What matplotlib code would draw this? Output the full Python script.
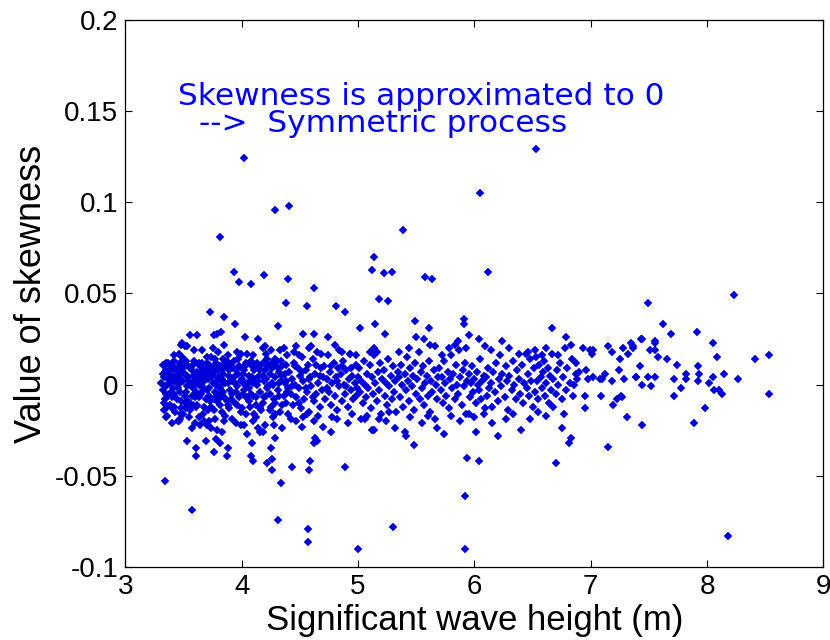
import matplotlib
matplotlib.use("Agg")
import matplotlib.pyplot as plt

# values: (significant wave height [m], skewness)
outliers_high = [
    (4.02, 0.124), (6.53, 0.129), (6.05, 0.105), (4.29, 0.096), (4.41, 0.098),
    (5.39, 0.085), (3.81, 0.081), (5.14, 0.070), (3.93, 0.062), (3.98, 0.056),
    (4.08, 0.055), (4.19, 0.060), (4.40, 0.058), (5.12, 0.063), (5.22, 0.061),
    (5.29, 0.062), (5.58, 0.059), (5.64, 0.058), (6.12, 0.062), (8.23, 0.049),
    (7.49, 0.045), (4.62, 0.053), (4.38, 0.045), (4.56, 0.043), (4.81, 0.043),
    (4.89, 0.040), (5.18, 0.047), (5.26, 0.046), (3.73, 0.040), (3.85, 0.037),
    (5.49, 0.035), (7.62, 0.033), (5.91, 0.036), (5.91, 0.033), (4.31, 0.032),
    (5.02, 0.031), (5.15, 0.033), (5.61, 0.031), (6.67, 0.031), (7.69, 0.028),
    (7.91, 0.029), (3.94, 0.033), (8.05, 0.023), (3.76, 0.027), (3.79, 0.028),
    (3.82, 0.029),
]

outliers_low = [
    (3.34, -0.053), (3.57, -0.069), (4.31, -0.074), (4.57, -0.079), (4.57, -0.086),
    (5.00, -0.090), (5.30, -0.078), (5.92, -0.061), (5.92, -0.090), (8.18, -0.083),
    (4.34, -0.054), (4.89, -0.045), (4.43, -0.045), (4.58, -0.047), (4.26, -0.047),
    (4.22, -0.043), (4.26, -0.041), (4.59, -0.042), (5.94, -0.040), (6.04, -0.042),
    (6.70, -0.043), (7.15, -0.034), (7.44, -0.022), (7.89, -0.021), (7.98, -0.013),
    (7.31, -0.018), (6.81, -0.032), (6.83, -0.029), (6.75, -0.024), (6.62, -0.017),
    (6.40, -0.025), (6.20, -0.028), (6.27, -0.019), (6.01, -0.026), (5.48, -0.033),
    (5.41, -0.028), (5.40, -0.026), (5.32, -0.024), (5.14, -0.025), (5.12, -0.025),
    (5.03, -0.019), (5.06, -0.019), (4.77, -0.026), (4.65, -0.031), (4.62, -0.032),
    (4.63, -0.029), (4.52, -0.023), (4.42, -0.019), (4.28, -0.022), (4.29, -0.029),
    (4.16, -0.026), (4.18, -0.026), (4.09, -0.032), (4.08, -0.039), (4.10, -0.042),
    (4.25, -0.035), (3.87, -0.039), (3.88, -0.035), (3.81, -0.032), (3.78, -0.030),
    (3.69, -0.031), (3.61, -0.035), (3.53, -0.031), (3.61, -0.039), (3.76, -0.037),
    (3.83, -0.026), (3.74, -0.024), (3.95, -0.021), (5.74, -0.027),
]

core_west = [
    (3.32, 0.011), (3.33, 0.004), (3.32, -0.003), (3.34, -0.008), (3.33, -0.014),
    (3.35, 0.008), (3.36, 0.000), (3.35, -0.005), (3.37, 0.012), (3.38, -0.011),
    (3.36, -0.017), (3.39, 0.003), (3.40, 0.009), (3.41, -0.002), (3.40, -0.007),
    (3.42, 0.013), (3.43, -0.015), (3.44, 0.005), (3.45, -0.020), (3.44, 0.001),
    (3.46, 0.010), (3.47, -0.004), (3.48, -0.009), (3.49, 0.015), (3.46, -0.020),
    (3.50, 0.002), (3.48, 0.022), (3.52, -0.013), (3.38, 0.006), (3.42, -0.012),
    (3.45, 0.007), (3.37, -0.006), (3.34, 0.007), (3.41, 0.004), (3.47, 0.001),
    (3.51, 0.006), (3.52, -0.004), (3.53, 0.011), (3.54, -0.009), (3.55, 0.002),
    (3.56, -0.014), (3.57, 0.008), (3.58, -0.002), (3.59, 0.013), (3.60, -0.007),
    (3.61, 0.004), (3.62, -0.011), (3.63, 0.000), (3.64, 0.010), (3.65, -0.005),
    (3.66, 0.006), (3.67, -0.016), (3.68, 0.002), (3.69, -0.008), (3.70, 0.012),
    (3.55, -0.018), (3.58, 0.005), (3.62, 0.007), (3.66, -0.001), (3.60, -0.021),
    (3.64, -0.022), (3.68, -0.020), (3.53, -0.001), (3.57, -0.006), (3.69, 0.005),
    (3.71, 0.003), (3.72, -0.006), (3.73, 0.009), (3.74, -0.012), (3.75, 0.001),
    (3.76, 0.007), (3.77, -0.004), (3.78, 0.012), (3.79, -0.009), (3.80, 0.004),
    (3.81, -0.002), (3.82, 0.010), (3.83, -0.015), (3.84, 0.006), (3.85, -0.007),
    (3.86, 0.001), (3.87, 0.013), (3.88, -0.011), (3.89, 0.005), (3.90, -0.003),
    (3.74, 0.015), (3.79, 0.002), (3.86, -0.017), (3.71, -0.014), (3.83, 0.003),
    (3.77, -0.019), (3.90, 0.009), (3.77, 0.014), (3.84, 0.014), (3.88, 0.016),
    (3.72, -0.020),
    (3.31, 0.001), (3.33, -0.010), (3.35, 0.012), (3.36, -0.012), (3.38, 0.001),
    (3.39, -0.004), (3.41, 0.010), (3.43, 0.002), (3.44, -0.008), (3.46, 0.004),
    (3.48, -0.013), (3.49, 0.007), (3.51, -0.010), (3.52, 0.013), (3.54, 0.004),
    (3.56, 0.009), (3.58, -0.011), (3.59, 0.000), (3.61, -0.004), (3.63, 0.012),
    (3.65, 0.003), (3.67, 0.008), (3.68, -0.012), (3.70, -0.003), (3.72, 0.011),
    (3.73, -0.009), (3.75, 0.005), (3.76, -0.014), (3.78, 0.000), (3.80, 0.011),
    (3.81, -0.011), (3.83, 0.008), (3.84, -0.004), (3.86, 0.010), (3.88, 0.001),
    (3.89, -0.013),
    (3.32, 0.006), (3.34, -0.001), (3.35, -0.011), (3.37, 0.003), (3.39, 0.010),
    (3.40, -0.013), (3.42, -0.005), (3.43, 0.008), (3.45, -0.002), (3.47, 0.012),
    (3.48, -0.016), (3.50, 0.009), (3.51, -0.006), (3.53, 0.005), (3.55, -0.010),
    (3.56, 0.000), (3.58, 0.011), (3.60, 0.002), (3.61, -0.012), (3.63, -0.007),
    (3.64, 0.005), (3.66, 0.012), (3.67, -0.003), (3.69, 0.009), (3.71, 0.007),
    (3.72, -0.002), (3.74, 0.004), (3.76, -0.008), (3.77, 0.010), (3.79, -0.005),
    (3.80, 0.008), (3.82, -0.007), (3.84, 0.001), (3.85, 0.011), (3.87, -0.009),
    (3.89, 0.008),
]

core_mid = [
    (3.91, 0.011), (3.92, -0.005), (3.93, 0.004), (3.94, -0.010), (3.95, 0.008),
    (3.96, -0.001), (3.97, 0.014), (3.98, -0.007), (3.99, 0.002), (4.00, -0.013),
    (4.01, 0.006), (4.02, -0.003), (4.03, 0.010), (4.04, -0.016), (4.05, 0.001),
    (4.06, -0.009), (4.07, 0.012), (4.08, -0.005), (4.09, 0.004), (4.10, -0.020),
    (4.11, 0.008), (4.12, -0.011), (4.13, 0.000), (4.14, -0.024), (3.96, 0.018),
    (4.05, 0.017), (4.02, -0.022), (3.92, 0.009), (4.08, 0.002), (4.12, 0.003),
    (4.15, 0.005), (4.16, -0.004), (4.17, 0.011), (4.18, -0.010), (4.19, 0.002),
    (4.20, 0.008), (4.21, -0.006), (4.22, 0.014), (4.23, -0.001), (4.24, 0.006),
    (4.25, -0.012), (4.26, 0.009), (4.27, 0.000), (4.28, -0.008), (4.29, 0.004),
    (4.30, 0.013), (4.31, -0.003), (4.32, 0.007), (4.33, -0.015), (4.34, 0.002),
    (4.35, 0.010), (4.36, -0.006), (4.37, 0.001), (4.38, -0.010), (4.39, 0.016),
    (4.40, -0.002), (4.21, 0.017), (4.33, 0.019), (4.27, -0.018), (4.18, 0.020),
    (3.91, -0.008), (3.93, 0.013), (3.94, 0.001), (3.96, -0.011), (3.97, 0.006),
    (3.99, -0.015), (4.00, 0.009), (4.01, -0.005), (4.03, 0.000), (4.04, 0.012),
    (4.06, 0.005), (4.07, -0.012), (4.09, 0.010), (4.10, -0.006), (4.11, -0.016),
    (4.13, 0.012), (4.14, 0.002), (4.16, 0.008), (4.17, -0.014), (4.19, -0.007),
    (4.20, 0.013), (4.22, -0.002), (4.23, 0.010), (4.24, -0.014), (4.26, 0.001),
    (4.28, 0.011), (4.29, -0.010), (4.31, 0.009), (4.32, -0.006), (4.34, 0.013),
    (4.35, -0.011), (4.37, 0.006), (4.38, 0.002), (4.39, -0.004),
    (3.92, 0.002), (3.95, -0.004), (3.98, 0.010), (4.00, 0.003), (4.02, 0.008),
    (4.04, -0.007), (4.06, -0.002), (4.08, 0.013), (4.10, 0.001), (4.12, -0.007),
    (4.14, 0.009), (4.16, -0.013), (4.18, 0.005), (4.21, 0.003), (4.24, -0.005),
    (4.26, 0.012), (4.29, -0.016), (4.32, 0.001), (4.35, 0.005), (4.38, 0.011),
    (4.41, 0.007), (4.42, -0.005), (4.43, 0.003), (4.44, -0.011), (4.45, 0.012),
    (4.46, 0.000), (4.47, -0.007), (4.48, 0.009), (4.49, -0.002), (4.50, 0.005),
    (4.51, -0.013), (4.52, 0.015), (4.53, 0.002), (4.54, -0.008), (4.55, 0.008),
    (4.56, -0.004), (4.57, 0.011), (4.58, -0.015), (4.59, 0.004), (4.60, -0.001),
    (4.61, 0.014), (4.62, -0.009), (4.63, 0.006), (4.64, -0.005), (4.65, 0.018),
    (4.66, 0.001), (4.67, -0.012), (4.68, 0.009), (4.69, -0.003), (4.70, 0.004),
    (4.47, 0.021), (4.58, 0.020), (4.66, -0.017), (4.53, -0.018),
    (4.43, -0.001), (4.46, 0.010), (4.49, -0.010), (4.52, 0.007), (4.55, -0.002),
    (4.58, 0.003), (4.61, -0.007), (4.64, 0.011), (4.67, 0.005),
    (4.71, 0.010), (4.72, -0.008), (4.73, 0.003), (4.74, 0.016), (4.75, -0.004),
    (4.76, 0.007), (4.77, -0.011), (4.78, 0.001), (4.79, 0.012), (4.80, -0.006),
    (4.81, 0.004), (4.82, -0.014), (4.83, 0.009), (4.84, -0.001), (4.85, 0.006),
    (4.86, -0.009), (4.87, 0.013), (4.88, 0.000), (4.89, -0.005), (4.90, 0.008),
    (4.91, -0.012), (4.92, 0.003), (4.93, 0.017), (4.94, -0.003), (4.95, 0.005),
    (4.96, -0.008), (4.97, 0.001), (4.98, 0.011), (4.99, -0.002), (5.00, 0.004),
    (4.78, -0.018), (4.84, 0.019), (4.95, -0.016),
    (4.73, -0.002), (4.77, 0.010), (4.82, 0.002), (4.86, 0.010), (4.90, -0.001),
    (4.94, 0.009), (4.98, -0.006),
]

core_east = [
    (5.01, 0.009), (5.02, -0.004), (5.03, 0.002), (5.04, -0.010), (5.05, 0.013),
    (5.06, 0.000), (5.07, -0.007), (5.08, 0.006), (5.09, -0.002), (5.10, 0.011),
    (5.11, -0.013), (5.12, 0.004), (5.13, -0.005), (5.14, 0.016), (5.15, 0.001),
    (5.16, -0.009), (5.17, 0.007), (5.18, -0.003), (5.19, 0.012), (5.20, -0.016),
    (5.21, 0.003), (5.22, 0.008), (5.23, -0.006), (5.24, 0.001), (5.25, -0.011),
    (5.26, 0.014), (5.27, -0.001), (5.28, 0.005), (5.29, -0.008), (5.30, 0.010),
    (5.31, -0.004), (5.32, 0.002), (5.33, -0.015), (5.34, 0.007), (5.14, 0.020),
    (5.24, -0.020),
    (5.35, 0.004), (5.36, -0.007), (5.37, 0.011), (5.38, 0.000), (5.39, -0.012),
    (5.40, 0.006), (5.41, -0.003), (5.42, 0.015), (5.43, 0.002), (5.44, -0.009),
    (5.45, 0.009), (5.46, -0.001), (5.47, 0.005), (5.48, -0.014), (5.49, 0.012),
    (5.50, -0.005), (5.51, 0.003), (5.52, 0.018), (5.53, -0.008), (5.54, 0.007),
    (5.55, -0.002), (5.56, 0.010), (5.57, -0.011), (5.58, 0.001), (5.59, 0.005),
    (5.60, -0.006), (5.61, 0.013), (5.62, -0.015), (5.63, 0.002), (5.64, -0.004),
    (5.65, 0.008), (5.66, -0.019), (5.67, 0.000), (5.68, -0.008), (5.69, 0.004),
    (5.62, 0.022),
    (5.70, 0.009), (5.71, -0.003), (5.72, 0.004), (5.73, -0.010), (5.74, 0.013),
    (5.75, 0.001), (5.76, -0.006), (5.77, 0.007), (5.78, -0.013), (5.79, 0.003),
    (5.80, 0.016), (5.81, -0.002), (5.82, 0.006), (5.83, -0.008), (5.84, 0.011),
    (5.85, 0.000), (5.86, -0.005), (5.87, 0.019), (5.88, 0.004), (5.89, -0.011),
    (5.90, 0.008), (5.91, -0.001), (5.92, 0.012), (5.93, -0.016), (5.94, 0.002),
    (5.95, 0.006), (5.96, -0.007), (5.97, 0.001), (5.98, 0.010), (5.99, -0.004),
    (6.00, 0.003), (6.01, -0.010), (6.02, 0.007), (6.03, 0.000), (6.04, -0.003),
    (6.05, 0.014), (6.06, -0.008), (6.07, 0.002), (6.08, 0.005), (6.09, -0.013),
    (5.93, 0.020), (5.95, -0.016), (5.83, 0.022),
    (6.10, 0.004), (6.11, -0.006), (6.12, 0.009), (6.13, -0.002), (6.14, 0.001),
    (6.15, -0.012), (6.16, 0.007), (6.18, -0.004), (6.19, 0.012), (6.20, -0.009),
    (6.21, 0.003), (6.22, 0.016), (6.23, -0.001), (6.24, 0.006), (6.26, -0.007),
    (6.27, 0.010), (6.28, 0.002), (6.29, -0.014), (6.30, 0.005), (6.32, -0.003),
    (6.33, 0.013), (6.34, 0.000), (6.36, -0.008), (6.37, 0.008), (6.38, 0.003),
    (6.39, -0.005), (6.41, 0.011), (6.42, -0.010), (6.43, 0.001), (6.44, 0.017),
    (6.45, -0.002), (6.46, 0.006), (6.47, -0.006), (6.48, 0.014), (6.49, 0.002),
    (6.50, -0.012),
    (6.51, 0.009), (6.52, -0.004), (6.53, 0.015), (6.54, 0.002), (6.55, -0.008),
    (6.56, 0.011), (6.57, 0.004), (6.58, -0.002), (6.59, 0.007), (6.60, 0.013),
    (6.61, -0.006), (6.62, 0.001), (6.63, 0.009), (6.64, -0.010), (6.65, 0.005),
    (6.66, -0.003), (6.67, 0.017), (6.68, 0.003), (6.70, -0.005), (6.71, 0.008),
    (6.72, 0.000), (6.74, 0.012), (6.75, -0.008), (6.76, 0.004), (6.78, 0.020),
    (6.79, -0.003), (6.80, 0.009), (6.82, 0.001), (6.84, 0.014), (6.85, -0.006),
    (6.87, 0.006), (6.88, 0.003), (6.90, 0.007),
]

fringe_pts = [
    (3.46, 0.017), (3.51, 0.021), (3.49, 0.023), (3.56, 0.027), (3.62, 0.027),
    (3.59, 0.019), (3.53, 0.021), (3.42, 0.016), (3.66, 0.019), (3.70, 0.015),
    (3.75, 0.020), (3.80, 0.018), (3.85, 0.022), (3.99, 0.017), (4.03, 0.026),
    (4.14, 0.025), (4.10, 0.016), (4.20, 0.021), (4.25, 0.019), (4.29, 0.014),
    (4.36, 0.020), (4.45, 0.018), (4.49, 0.016), (4.53, 0.028), (4.62, 0.028),
    (4.60, 0.021), (4.68, 0.017), (4.74, 0.026), (4.80, 0.022), (4.86, 0.018),
    (4.93, 0.017), (4.98, 0.016), (5.10, 0.018), (5.16, 0.018), (5.23, 0.028),
    (5.35, 0.018), (5.44, 0.020), (5.50, 0.026), (5.57, 0.025), (5.66, 0.021),
    (5.72, 0.016), (5.78, 0.020), (5.86, 0.024), (5.95, 0.027), (6.04, 0.025),
    (6.09, 0.021), (6.14, 0.019), (6.24, 0.024), (6.30, 0.020), (6.38, 0.017),
    (6.46, 0.018), (6.52, 0.019), (6.58, 0.016), (6.62, 0.020), (6.72, 0.016),
    (6.79, 0.026), (6.83, 0.022),
    (3.35, -0.018), (3.40, -0.021), (3.47, -0.019), (3.50, -0.016), (3.57, -0.024),
    (3.63, -0.018), (3.70, -0.022), (3.79, -0.025), (3.85, -0.020), (3.92, -0.019),
    (3.99, -0.022), (4.05, -0.027), (4.12, -0.018), (4.20, -0.022), (4.35, -0.024),
    (4.40, -0.016), (4.47, -0.020), (4.56, -0.016), (4.62, -0.020), (4.70, -0.023),
    (4.82, -0.019), (4.91, -0.021), (5.08, -0.017), (5.18, -0.019), (5.27, -0.015),
    (5.45, -0.018), (5.55, -0.021), (5.60, -0.017), (5.68, -0.024), (5.80, -0.017),
    (5.88, -0.020), (6.00, -0.018), (6.08, -0.016), (6.15, -0.021), (6.33, -0.016),
    (6.48, -0.019), (6.55, -0.015), (6.68, -0.012), (6.77, -0.016),
]

tail_pts = [
    (6.95, -0.013), (7.09, -0.006), (7.23, -0.008), (7.26, -0.006), (7.02, 0.004),
    (7.08, 0.003), (7.12, 0.006), (7.15, 0.021), (7.02, 0.019), (6.93, 0.020),
    (7.25, 0.014), (7.32, 0.017), (7.36, 0.020), (7.44, 0.025), (7.24, 0.008),
    (7.29, 0.003), (7.18, 0.002), (6.86, 0.000), (6.96, 0.008), (6.87, 0.012),
    (7.28, 0.020), (7.35, 0.023), (7.39, 0.004), (7.27, -0.007), (7.19, -0.011),
    (7.10, 0.003), (6.98, 0.003), (6.95, -0.006), (6.99, 0.019), (7.01, 0.017),
    (7.18, 0.018), (8.09, 0.015), (8.41, 0.014), (8.53, 0.016), (8.53, -0.005),
    (8.27, 0.003), (8.15, 0.006), (8.05, 0.004), (8.02, 0.001), (8.06, -0.003),
    (8.10, -0.003), (8.13, -0.005), (7.92, 0.002), (7.93, 0.006), (7.92, 0.010),
    (7.78, -0.002), (7.82, 0.003), (7.82, 0.006), (7.74, 0.011), (7.72, 0.003),
    (7.72, -0.006), (7.66, 0.014), (7.58, 0.015), (7.55, 0.019), (7.55, 0.024),
    (7.55, 0.023), (7.51, 0.019), (7.55, 0.004), (7.49, 0.004), (7.52, -0.001),
    (7.44, 0.000), (7.39, 0.004), (7.42, 0.010), (7.43, 0.025), (7.36, 0.021),
]

x_ticks = [3, 4, 5, 6, 7, 8, 9]
y_ticks = [-0.1, -0.05, 0, 0.05, 0.1, 0.15, 0.2]
y_tick_labels = ["-0.1", "-0.05", "0", "0.05", "0.1", "0.15", "0.2"]

all_pts = outliers_high + outliers_low + core_west + core_mid + core_east + fringe_pts + tail_pts
hs = [p[0] for p in all_pts]
skew = [p[1] for p in all_pts]

plt.rcParams['font.family'] = ['Liberation Sans', 'DejaVu Sans']

fig = plt.figure(figsize=(8.3, 6.4), dpi=100)
ax = fig.add_axes([0.151, 0.114, 0.841, 0.855])

ax.plot(hs, skew, linestyle='none', marker='D', markersize=4.0,
        markerfacecolor='#0000d8', markeredgecolor='#0000d8', markeredgewidth=0.3)

ax.set_xlim(3, 9)
ax.set_ylim(-0.1, 0.2)
ax.set_xticks(x_ticks)
ax.set_xticklabels([str(t) for t in x_ticks])
ax.set_yticks(y_ticks)
ax.set_yticklabels(y_tick_labels)
ax.tick_params(direction='in', length=5, width=0.8, top=True, right=True,
               labelsize=20, pad=5)

for s in ax.spines.values():
    s.set_linewidth(0.9)

ax.set_xlabel("Significant wave height (m)", fontsize=25, labelpad=3)
ax.set_ylabel("Value of skewness", fontsize=26, labelpad=4)

# the annotation in the reference is wide for its height, so a wider face is used
note_font = ['DejaVu Sans']
ax.text(3.45, 0.1535, "Skewness is approximated to 0", color='#0000ff',
        fontsize=22.5, family=note_font, va='baseline', ha='left')
ax.text(3.63, 0.1385, "-->  Symmetric process", color='#0000ff',
        fontsize=22.5, family=note_font, va='baseline', ha='left')

fig.savefig("out.png", dpi=100)
